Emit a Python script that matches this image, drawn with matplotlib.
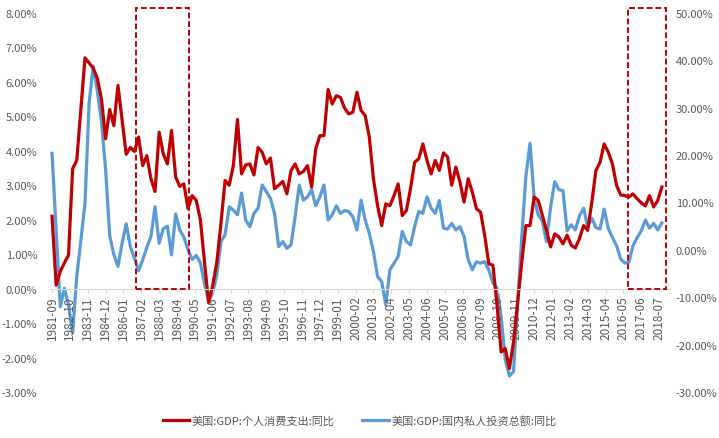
import matplotlib
matplotlib.use('Agg')
import matplotlib.pyplot as plt
from matplotlib.patches import Rectangle
from matplotlib.ticker import FuncFormatter
import numpy as np

plt.rcParams['font.family'] = ['Noto Sans CJK SC', 'DejaVu Sans']

# quarterly data, 1981-09 .. 2018-09
consumption = [
    2.1, 0.1, 0.5, 0.75, 0.97, 3.48, 3.72, 5.2, 6.7, 6.55,
    6.4, 6.1, 5.5, 4.35, 5.2, 4.73, 5.9, 4.9, 3.9, 4.1,
    3.98, 4.4, 3.57, 3.86, 3.19, 2.82, 4.54, 3.91, 3.62, 4.59,
    3.24, 2.97, 3.04, 2.32, 2.7, 2.56, 2.0, 0.77, -0.4, 0.1,
    0.77, 1.9, 3.14, 3.0, 3.57, 4.91, 3.33, 3.59, 3.62, 3.3,
    4.1, 3.96, 3.62, 3.79, 2.9, 3.0, 3.11, 2.75, 3.43, 3.62,
    3.33, 3.4, 3.57, 2.95, 4.06, 4.44, 4.44, 5.78, 5.36, 5.6,
    5.55, 5.24, 5.07, 5.12, 5.7, 5.17, 5.02, 4.4, 3.19, 2.41,
    1.83, 2.46, 2.41, 2.7, 3.04, 2.12, 2.27, 2.9, 3.67, 3.77,
    4.2, 3.72, 3.33, 3.72, 3.43, 3.94, 3.82, 3.0, 3.53, 3.09,
    2.51, 3.19, 2.8, 2.32, 2.22, 1.55, 0.72, 0.68, -0.48, -1.84,
    -1.74, -2.32, -1.55, -0.39, 0.77, 1.83, 1.83, 2.66, 2.56, 2.12,
    1.69, 1.21, 1.59, 1.5, 1.3, 1.55, 1.26, 1.18, 1.45, 1.83,
    1.69, 2.51, 3.43, 3.67, 4.2, 3.96, 3.62, 3.0, 2.72, 2.7,
    2.66, 2.75, 2.61, 2.49, 2.4, 2.7, 2.37, 2.56, 2.95,
]
investment = [
    20.4, 4.0, -12.0, -8.1, -11.6, -17.5, -5.6, 2.0, 9.85, 31.0,
    38.8, 33.5, 27.0, 17.0, 3.0, -1.0, -3.5, 1.4, 5.5, 0.7,
    -1.75, -4.4, -2.1, 0.5, 2.8, 9.1, 1.4, 4.5, 5.0, -1.05,
    7.6, 4.2, 2.7, 0.0, -2.0, -1.2, -2.7, -7.2, -10.7, -9.1,
    -5.3, 1.75, 3.2, 9.1, 8.4, 7.4, 12.0, 6.3, 4.9, 7.7,
    8.8, 13.7, 12.3, 10.9, 7.7, 0.7, 1.75, 0.35, 1.05, 7.0,
    13.7, 10.5, 11.2, 12.7, 9.3, 11.2, 13.7, 6.3, 7.4, 9.3,
    7.7, 8.3, 8.1, 7.0, 4.2, 10.5, 6.3, 3.5, -0.35, -5.6,
    -6.7, -11.6, -4.2, -2.8, -1.4, 3.9, 1.75, 1.05, 4.9, 8.1,
    7.7, 11.2, 8.8, 7.7, 10.4, 4.6, 4.4, 5.6, 4.2, 4.9,
    2.8, -2.1, -4.2, -2.5, -2.8, -2.5, -4.2, -7.0, -8.1, -14.1,
    -23.2, -26.6, -25.7, -11.2, 2.8, 15.5, 22.5, 10.9, 7.4, 6.0,
    1.75, 9.1, 14.4, 12.7, 12.5, 4.0, 5.3, 4.2, 7.2, 8.8,
    4.9, 6.7, 4.7, 4.4, 8.6, 4.5, 2.6, 0.9, -1.9, -2.8,
    -2.6, 0.9, 2.6, 4.0, 6.3, 4.6, 5.6, 4.2, 5.7,
]
tick_labels = [
    '1981-09', '1982-10', '1983-11', '1984-12', '1986-01', '1987-02',
    '1988-03', '1989-04', '1990-05', '1991-06', '1992-07', '1993-08',
    '1994-09', '1995-10', '1996-11', '1997-12', '1999-01', '2000-02',
    '2001-03', '2002-04', '2003-05', '2004-06', '2005-07', '2006-08',
    '2007-09', '2008-10', '2009-11', '2010-12', '2012-01', '2013-02',
    '2014-03', '2015-04', '2016-05', '2017-06', '2018-07',
]
highlight_spans = [('1986-10', '1990-01'), ('2016-08', '2018-12')]
label_red = '美国:GDP:个人消费支出:同比'
label_blue = '美国:GDP:国内私人投资总额:同比'


def month_pos(s):
    # months since 1981-09
    y, m = s.split('-')
    return (int(y) - 1981) * 12 + int(m) - 9


x = np.arange(len(consumption)) * 3
red = '#C00000'
blue = '#5B9BD5'
grey = '#595959'

fig = plt.figure(figsize=(7.19, 4.39), dpi=100)
ax = fig.add_axes([0.0695, 0.1048, 0.8625, 0.8633])
ax2 = ax.twinx()
# red series drawn over the blue one
ax.set_zorder(ax2.get_zorder() + 1)
ax.patch.set_visible(False)

# spine first: set_position resets the ticks
for a in (ax, ax2):
    for s in ('top', 'left', 'right', 'bottom'):
        a.spines[s].set_visible(False)
ax.spines['bottom'].set_visible(True)
ax.spines['bottom'].set_position(('data', 0))
ax.spines['bottom'].set_color('#D9D9D9')

l1, = ax.plot(x, consumption, color=red, lw=2.3, solid_joinstyle='round')
l2, = ax2.plot(x, investment, color=blue, lw=2.3, solid_joinstyle='round')

ax.set_xlim(-1.5, 450)
ax.set_ylim(-3, 8)
ax2.set_ylim(-30, 50)
ax.set_yticks(np.arange(-3, 9, 1))
ax2.set_yticks(np.arange(-30, 60, 10))
ax.yaxis.set_major_formatter(FuncFormatter(lambda v, p: f'{v:.2f}%'))
ax2.yaxis.set_major_formatter(FuncFormatter(lambda v, p: f'{v:.2f}%'))

ax.set_xticks([month_pos(t) for t in tick_labels])
ax.set_xticklabels(tick_labels)

ax.tick_params(axis='x', colors='#D9D9D9', length=3, labelcolor=grey,
               labelsize=8.5, pad=2, labelrotation=90)
ax.tick_params(axis='y', length=0, labelcolor=grey, labelsize=8, pad=9)
ax2.tick_params(axis='y', length=0, labelcolor=grey, labelsize=8, pad=4)

# dashed highlight boxes
for a, b in highlight_spans:
    x0, x1 = month_pos(a), month_pos(b)
    rect = Rectangle((x0, 0), x1 - x0, 8.15, fill=False, ec=red, lw=1.4,
                     ls=(0, (3, 1.5)), clip_on=False, zorder=5)
    ax.add_patch(rect)

fig.legend([l1, l2], [label_red, label_blue], loc='lower center',
           bbox_to_anchor=(0.5, 0.005), ncol=2, frameon=False, fontsize=8,
           handlelength=2.4, handletextpad=0.2, columnspacing=2.5,
           labelcolor=grey)

plt.savefig('out.png', dpi=100)
plt.close()
